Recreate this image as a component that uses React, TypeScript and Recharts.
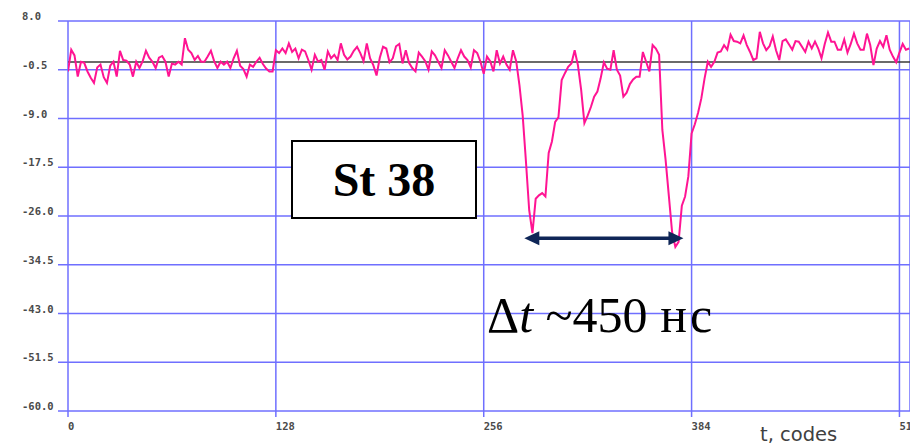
import React from "react";
import { LineChart, Line, XAxis, YAxis, CartesianGrid, ReferenceLine } from "recharts";

// sample step in codes
const STEP = 2;

const xTicks = [0, 128, 256, 384, 512];
const yTicks = [8, -0.5, -9, -17.5, -26, -34.5, -43, -51.5, -60];

const baselineLevel = 0.85;
const arrowFrom = 281;
const arrowTo = 379;
const arrowLevel = -29.9;

// codes 0..126
const sigA = [
  -0.8, 3.0, 2.0, -1.7, 0.9, 0.7, -0.8, -1.9, -2.8, -0.1, 0.4, -1.8, -2.8, 0.2, 0.9, -1.7,
  2.8, 1.2, 1.1, 0.4, -1.7, 0.9, -0.2, 1.0, 2.8, 1.6, 0.9, -0.2, 1.6, 1.9, 0.9, -1.7,
  0.6, 0.4, 0.9, 0.4, 5.0, 3.0, 2.4, 1.2, 1.9, 0.9, 0.9, 1.8, 2.8, 1.0, -0.2, 0.9,
  0.4, 0.9, -0.2, 1.5, 2.8, 0.2, -0.4, -1.7, 0.4, 0.0, 0.9, 1.6, 0.5, -0.3, -0.8, -0.8,
];
// codes 128..254
const sigB = [
  2.9, 2.4, 3.2, 2.4, 4.1, 2.6, 3.2, 1.5, 3.0, 2.7, 1.2, -0.5, 2.1, 0.9, 1.2, -0.5,
  2.7, 1.5, 2.1, 1.2, 4.1, 2.1, 1.3, 1.8, 2.8, 3.5, 2.4, 1.0, 4.1, 1.5, 0.3, -1.5,
  1.6, 3.5, 3.2, 0.8, 1.5, 3.6, 4.0, 0.6, 2.9, 0.7, -0.2, -0.8, 2.5, 1.8, 1.0, -0.5,
  2.7, 2.0, 0.9, -0.2, 2.9, 2.0, 0.9, -0.2, 1.5, 2.9, 1.8, 1.2, -0.1, 2.9, 2.4, 0.9,
];
// codes 256..382
const sigC = [
  -1.2, 1.8, 1.0, -0.8, 2.9, 0.6, 1.8, 0.4, -0.5, 2.9, 1.0, -3.2, -8.5, -16.5, -25.0, -29.0,
  -23.0, -22.4, -22.0, -22.6, -15.0, -13.0, -9.6, -8.8, -2.3, -1.1, 0.0, 0.6, 2.9, 0.3, -4.0, -9.8,
  -8.5, -7.0, -5.2, -4.3, -2.0, 0.8, -0.3, -0.5, 2.9, -0.5, -1.5, -5.2, -4.5, -3.0, -2.2, -1.7,
  -1.7, 2.6, 0.9, -0.8, 3.8, 3.2, 2.1, -11.0, -16.2, -22.5, -28.8, -31.4, -30.5, -24.2, -22.6, -19.1,
];
// codes 384..518
const sigD = [
  -11.6, -10.0, -8.0, -5.5, -2.0, 0.9, 0.0, 0.9, 2.5, 2.7, 3.8, 3.0, 5.6, 4.5, 4.4, 4.1,
  5.5, 3.8, 2.6, 1.2, 1.5, 6.1, 4.1, 2.9, 3.6, 5.3, 2.9, 1.2, 4.5, 4.8, 3.9, 3.0,
  4.5, 4.4, 3.5, 2.6, 4.4, 3.2, 4.4, 3.2, 1.5, 4.0, 6.0, 4.4, 4.4, 3.0, 3.0, 4.8,
  2.5, 4.0, 5.8, 4.1, 3.0, 3.0, 5.8, 3.8, 0.3, 3.2, 4.5, 3.5, 5.5, 3.0, 1.8, 0.8,
  2.5, 4.0, 3.0, 3.2,
];

const data = [...sigA, ...sigB, ...sigC, ...sigD].map((v, i) => ({ t: i * STEP, v }));

const GRID = "#6f6fff";
const PINK = "#ff1493";
const NAVY = "#0f2657";

const YTick = (p: any) => (
  <text x={22} y={p.y - 1} textAnchor="start" fontFamily="DejaVu Sans Mono" fontWeight="bold" fontSize={10.5} fill="#4a4a4a">
    {Number(p.payload.value).toFixed(1)}
  </text>
);

const XTick = (p: any) => (
  <text x={p.x} y={p.y + 11} textAnchor="start" fontFamily="DejaVu Sans Mono" fontWeight="bold" fontSize={10.5} fill="#4a4a4a">
    {p.payload.value}
  </text>
);

const Arrow = (p: any) => {
  const { x1, y1, x2 } = p;
  const h = 15, w = 7;
  return (
    <g>
      <line x1={x1 + h - 1} y1={y1} x2={x2 - h + 1} y2={y1} stroke={NAVY} strokeWidth={3.5} />
      <polygon points={`${x1},${y1} ${x1 + h},${y1 - w} ${x1 + h},${y1 + w}`} fill={NAVY} />
      <polygon points={`${x2},${y1} ${x2 - h},${y1 - w} ${x2 - h},${y1 + w}`} fill={NAVY} />
    </g>
  );
};

export default function App() {
  return (
    <div style={{ position: "fixed", left: 0, top: 0, width: 910, height: 445, overflow: "hidden", background: "#fff" }}>
      <div style={{ position: "absolute", left: 0, top: 0 }}>
        <LineChart width={910} height={445} data={data} margin={{ top: 21, right: 0, bottom: 0, left: 8 }}>
          <CartesianGrid stroke={GRID} strokeWidth={1.5} />
          <XAxis
            type="number"
            dataKey="t"
            domain={[0, 518.5]}
            ticks={xTicks}
            allowDataOverflow
            height={34}
            axisLine={false}
            tickLine={{ stroke: GRID, strokeWidth: 1.5 }}
            tickSize={6}
            tick={<XTick />}
            interval={0}
          />
          <YAxis
            type="number"
            domain={[-60, 8]}
            ticks={yTicks}
            width={60}
            axisLine={false}
            tickLine={{ stroke: GRID, strokeWidth: 1.5 }}
            tickSize={10}
            tick={<YTick />}
            interval={0}
          />
          <ReferenceLine y={baselineLevel} stroke="#3a3a3a" strokeWidth={1.5} />
          <Line type="linear" dataKey="v" stroke={PINK} strokeWidth={2} dot={false} isAnimationActive={false} />
          <ReferenceLine
            segment={[{ x: arrowFrom, y: arrowLevel }, { x: arrowTo, y: arrowLevel }]}
            shape={(p: any) => <Arrow {...p} />}
          />
        </LineChart>
      </div>
      <div
        style={{
          position: "absolute", left: 291, top: 140, width: 186, height: 79, boxSizing: "border-box",
          border: "2px solid #000", background: "#fff", display: "flex", alignItems: "center", justifyContent: "center",
          fontFamily: "'Liberation Serif', 'Times New Roman', serif", fontWeight: "bold", fontSize: 48, color: "#000",
        }}
      >
        St 38
      </div>
      <div
        style={{
          position: "absolute", left: 487, top: 290, fontFamily: "'Liberation Serif', serif", fontSize: 50,
          lineHeight: "50px", color: "#000", whiteSpace: "nowrap",
        }}
      >
        Δ<i>t</i> ~450 <span style={{ letterSpacing: 3 }}>нс</span>
      </div>
      <div
        style={{
          position: "absolute", left: 760, top: 425, fontFamily: "'DejaVu Sans', sans-serif", fontSize: 19.5,
          lineHeight: "20px", color: "#404040", whiteSpace: "nowrap",
        }}
      >
        t, codes
      </div>
    </div>
  );
}
